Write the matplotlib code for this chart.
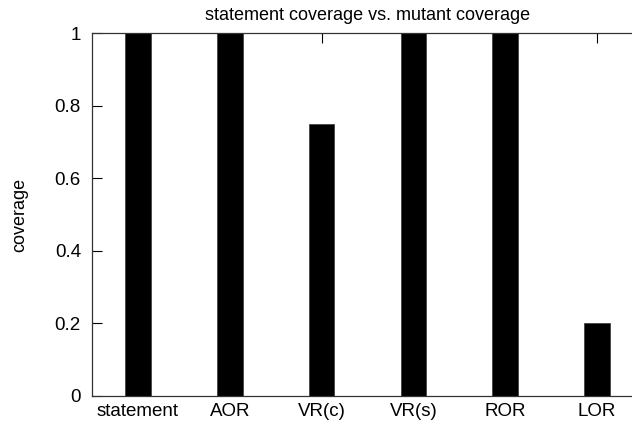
import matplotlib
matplotlib.use("Agg")
import matplotlib.pyplot as plt

categories = ["statement", "AOR", "VR(c)", "VR(s)", "ROR", "LOR"]
coverage = [1.0, 1.0, 0.75, 1.0, 1.0, 0.2]
yticks = [0, 0.2, 0.4, 0.6, 0.8, 1]
ytick_labels = ["0", "0.2", "0.4", "0.6", "0.8", "1"]

plt.rcParams["font.family"] = ["Liberation Sans", "DejaVu Sans"]

fig = plt.figure(figsize=(6.32, 4.25), dpi=100)
# gnuplot-like frame; right edge runs off the picture like the original
ax = fig.add_axes([92 / 632, 1 - 396 / 425, 551 / 632, 363 / 425])

x = list(range(len(categories)))
ax.bar(x, coverage, width=0.28, color="black", edgecolor="#444444", linewidth=0.6)

ax.set_xlim(-0.5, 5.5)
ax.set_ylim(0, 1)
ax.set_xticks(x)
ax.set_xticklabels(categories)
ax.set_yticks(yticks)
ax.set_yticklabels(ytick_labels)

ax.tick_params(axis="both", direction="in", length=7, width=0.8,
               color="black", labelsize=13.5, top=True, right=True)
ax.tick_params(axis="x", pad=5)
ax.tick_params(axis="y", pad=8)
for s in ax.spines.values():
    s.set_linewidth(0.9)
    s.set_color("#333333")

ax.set_ylabel("coverage", fontsize=13, labelpad=19)
ax.set_title("statement coverage vs. mutant coverage", fontsize=13, pad=9)

fig.savefig("out.png", dpi=100)
